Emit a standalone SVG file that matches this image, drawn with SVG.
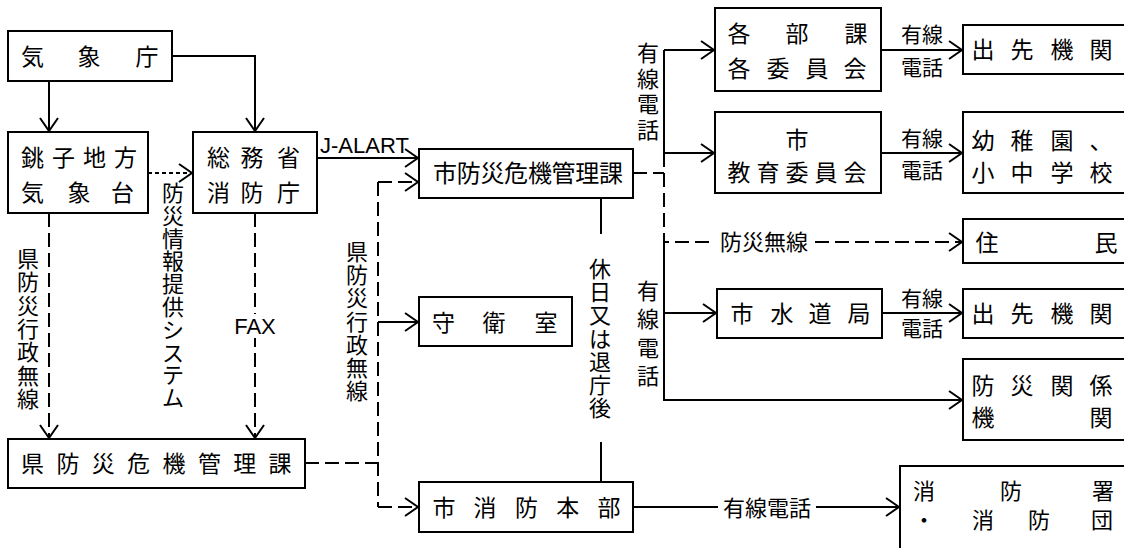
<svg xmlns="http://www.w3.org/2000/svg" width="1124" height="548" viewBox="0 0 1124 548">
<style>
.box{fill:#fff;stroke:#000;stroke-width:2}
.t{font-family:"Noto Sans CJK JP","Liberation Sans",sans-serif;font-size:23px;fill:#000;text-anchor:middle}
.t24{font-size:24px}
.t22{font-size:22px}
.l{font-family:"Noto Sans CJK JP","Liberation Sans",sans-serif;font-size:21px;fill:#000;text-anchor:middle}
.v{font-family:"Noto Sans CJK JP","Liberation Sans",sans-serif;font-size:22px;fill:#000;text-anchor:middle}
.en{font-family:"Liberation Sans",Arial,sans-serif;font-size:22px;fill:#000}
.ln{fill:none;stroke:#000;stroke-width:2}
.dash{stroke-dasharray:14 6}
.dot{stroke-dasharray:4 3}
.arr{marker-end:url(#arr)}
</style>
<defs>
<marker id="arr" viewBox="-14 -11 16 22" refX="0" refY="0" markerWidth="16" markerHeight="22" markerUnits="userSpaceOnUse" orient="auto">
<path d="M-13,-9 L0,0 L-13,9" fill="none" stroke="#000" stroke-width="2"/>
</marker>
</defs>
<rect width="1124" height="548" fill="#fff"/>

<g id="connectors">
<path class="ln arr" d="M49,81 V131"/>
<path class="ln arr" d="M172,56 H255 V131"/>
<path class="ln dot arr" d="M148,173 H192"/>
<path class="ln dash arr" d="M49,213 V438"/>
<path class="ln dash arr" d="M255,213 V438"/>
<path class="ln arr" d="M317,158 H418"/>
<path class="ln dash" d="M305,463 H378"/>
<path class="ln dash" d="M378,182 V507"/>
<path class="ln dash arr" d="M378,182 H418"/>
<path class="ln arr" d="M378,322 H418"/>
<path class="ln dash arr" d="M378,507 H418"/>
<path class="ln" d="M601,198 V234"/>
<path class="ln" d="M601,442 V482"/>
<path class="ln arr" d="M633,507 H899"/>
<path class="ln dash" d="M633,173 H664"/>
<path class="ln dash arr" d="M664,153 V242 H962"/>
<path class="ln" d="M664,50 V153"/>
<path class="ln arr" d="M664,50 H714"/>
<path class="ln arr" d="M664,153 H714"/>
<path class="ln arr" d="M664,242 V400 H962"/>
<path class="ln arr" d="M664,313 H716"/>
<path class="ln arr" d="M881,50 H962"/>
<path class="ln arr" d="M881,153 H962"/>
<path class="ln arr" d="M882,313 H962"/>
<rect x="235" y="314" width="40" height="24" fill="#fff"/>
<rect x="714" y="230" width="100" height="24" fill="#fff"/>
<rect x="718" y="495" width="98" height="24" fill="#fff"/>
<text class="en" x="320" y="153">J-ALART</text>
<text class="en" x="255" y="334" text-anchor="middle">FAX</text>
<text class="l" x="764" y="250" style="font-size:22px">防災無線</text>
<text class="l" x="767" y="516" style="font-size:22px">有線電話</text>
<text class="l" x="922" y="42">有線</text>
<text class="l" x="922" y="75">電話</text>
<text class="l" x="922" y="146">有線</text>
<text class="l" x="922" y="178">電話</text>
<text class="l" x="922" y="306">有線</text>
<text class="l" x="922" y="336">電話</text>
<text class="v" x="28 28 28 28 28 28 28" y="267 290.3 313.6 337 360.3 383.6 407">県防災行政無線</text>
<text class="v" x="173 173 173 173 173 173 173 173 173 173" y="201 223.8 246.6 269.4 292.2 315 337.8 360.6 383.4 406">防災情報提供システム</text>
<text class="v" x="357 357 357 357 357 357 357" y="260 283.2 306.4 329.6 352.8 376 399">県防災行政無線</text>
<text class="v" x="600 600 600 600 600 600 600" y="277 300.2 323.4 346.6 369.8 393 416">休日又は退庁後</text>
<text class="v" x="648 648 648 648" y="61 86.7 112.4 138">有線電話</text>
<text class="v" x="648 648 648 648" y="299 327.3 355.6 384">有線電話</text>
</g>

<g id="kishocho">
<rect class="box" x="8" y="31" width="164" height="50"/>
<text class="t" x="32.5 89 147" y="65">気象庁</text>
</g>
<g id="choshi">
<rect class="box" x="8" y="132" width="140" height="81"/>
<text class="t" x="32.5 63.5 94.5 125.5" y="166">銚子地方</text>
<text class="t" x="32.5 79 122.5" y="201">気象台</text>
</g>
<g id="somusho">
<rect class="box" x="193" y="132" width="124" height="81"/>
<text class="t" x="218.5 252 288.5" y="166">総務省</text>
<text class="t" x="218.5 252 288.5" y="201">消防庁</text>
</g>
<g id="ken">
<rect class="box" x="8" y="439" width="297" height="49"/>
<text class="t" x="32.5 67.9 103.3 138.6 174 209.4 244.7 280" y="472">県防災危機管理課</text>
</g>
<g id="shi-bosai">
<rect class="box" x="419" y="149" width="214" height="49"/>
<text class="t t24" x="445 468.7 492.4 516.1 539.9 563.6 587.3 611" y="182">市防災危機管理課</text>
</g>
<g id="shueishitsu">
<rect class="box" x="419" y="297" width="153" height="49"/>
<text class="t" x="443.5 494 546" y="331">守衛室</text>
</g>
<g id="shoubou-honbu">
<rect class="box" x="419" y="482" width="214" height="50"/>
<text class="t" x="444 485 526.5 567.75 609" y="516">市消防本部</text>
</g>
<g id="kakubuka">
<rect class="box" x="715" y="8" width="166" height="83"/>
<text class="t" x="739 797 856" y="42">各部課</text>
<text class="t" x="739 778 817 855" y="77">各委員会</text>
</g>
<g id="kyoiku">
<rect class="box" x="715" y="112" width="166" height="81"/>
<text class="t" x="797" y="148">市</text>
<text class="t" x="739 768 797 826 855" y="181">教育委員会</text>
</g>
<g id="suidou">
<rect class="box" x="717" y="289" width="165" height="49"/>
<text class="t" x="742 782 820 859" y="322">市水道局</text>
</g>
<g id="desaki1">
<rect class="box" x="963" y="25" width="170" height="49"/>
<text class="t" x="983 1022 1062 1101" y="58">出先機関</text>
</g>
<g id="youchien">
<rect class="box" x="963" y="112" width="170" height="81"/>
<text class="t" x="983 1022 1062 1101" y="149">幼稚園、</text>
<text class="t" x="983 1022 1062 1101" y="181">小中学校</text>
</g>
<g id="jumin">
<rect class="box" x="963" y="219" width="170" height="44"/>
<text class="t" x="987 1106" y="251">住民</text>
</g>
<g id="desaki2">
<rect class="box" x="963" y="289" width="170" height="49"/>
<text class="t" x="983 1022 1062 1101" y="322">出先機関</text>
</g>
<g id="bousai-kankei">
<rect class="box" x="963" y="359" width="170" height="81"/>
<text class="t" x="983 1022 1062 1101" y="394">防災関係</text>
<text class="t" x="983 1101" y="426">機関</text>
</g>
<g id="shoubousho">
<rect class="box" x="900" y="466" width="233" height="90"/>
<text class="t t22" x="924 1011 1103" y="499">消防署</text>
<text class="t t22" x="924 983 1039 1102" y="528">・消防団</text>
</g>
</svg>
